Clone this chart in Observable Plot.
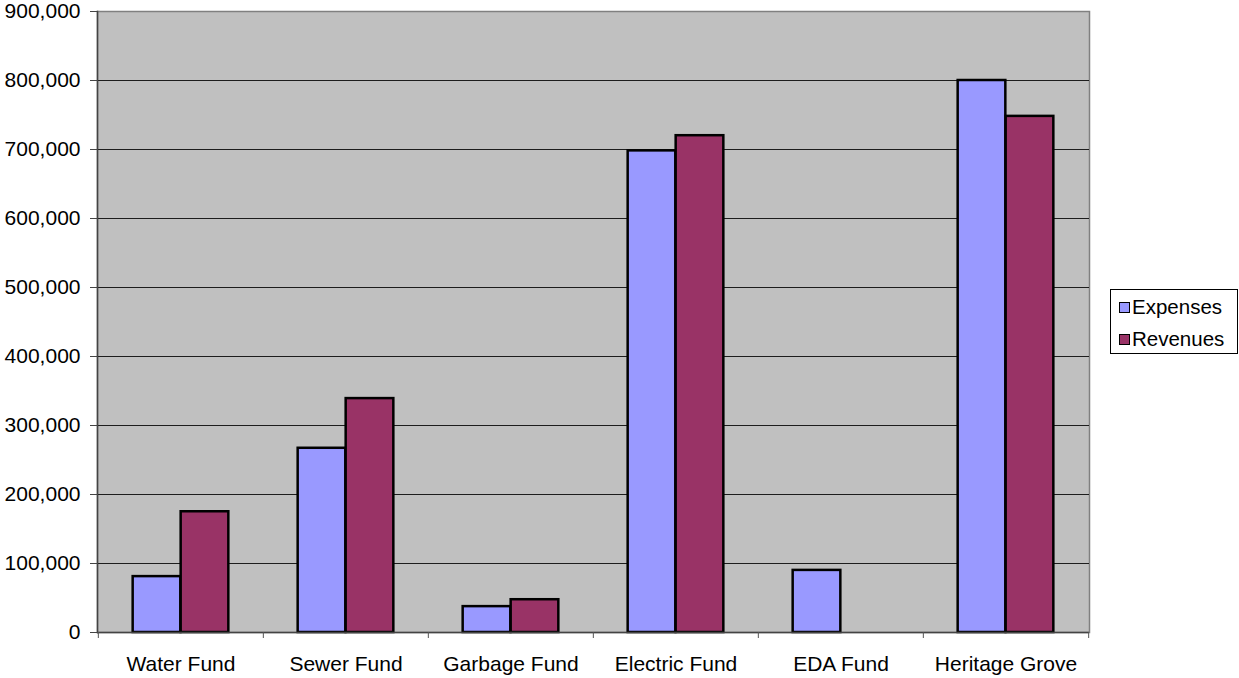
<!DOCTYPE html>
<html>
<head>
<meta charset="utf-8">
<script src="https://cdn.jsdelivr.net/npm/d3@7"></script>
<script src="https://cdn.jsdelivr.net/npm/@observablehq/plot@0.6"></script>
<style>
  html, body { margin: 0; padding: 0; background: #fff; }
  #wrap { position: relative; width: 1239px; height: 678px; font-family: "Liberation Sans", Arial, sans-serif; }
  #legend { position: absolute; left: 1110px; top: 289px; width: 126px; height: 63px; border: 1px solid #000; background: #fff; font-size: 20.5px; }
  .item { position: absolute; left: 8px; display: flex; align-items: center; color: #000; }
  .sw { width: 9px; height: 9px; border: 1px solid #000; margin-right: 2px; }
</style>
</head>
<body>
<div id="wrap"><div id="legend"></div></div>
<script>
const categories = ["Water Fund", "Sewer Fund", "Garbage Fund", "Electric Fund", "EDA Fund", "Heritage Grove"];
const expenses = [81000, 267000, 37500, 698000, 90000, 800000];
const revenues = [175000, 339000, 47500, 720000, 0, 748000];
const seriesNames = ["Expenses", "Revenues"];
const seriesColors = ["#9999ff", "#993366"];
const yTicks = [0, 100000, 200000, 300000, 400000, 500000, 600000, 700000, 800000, 900000];

const W = 1239, H = 678, mL = 97, mR = 150, mT = 11, mB = 46;
const step = (W - mL - mR) / categories.length;
const barW = 48;
const outer = (step - 2 * barW) / 2;

const expData = categories.map((c, i) => ({category: c, value: expenses[i]}));
const revData = categories.map((c, i) => ({category: c, value: revenues[i]})).filter(d => d.value > 0);

const chart = Plot.plot({
  width: W, height: H,
  marginLeft: mL, marginRight: mR, marginTop: mT, marginBottom: mB,
  style: {fontFamily: "'Liberation Sans', Arial, sans-serif", fontSize: "21px", color: "#000", background: "transparent"},
  x: {type: "band", domain: categories, padding: 0, label: null},
  y: {domain: [0, 900000], label: null},
  marks: [
    Plot.frame({fill: "#c0c0c0", stroke: "#808080", strokeWidth: 1.5}),
    Plot.ruleY(yTicks.filter(t => t > 0 && t < 900000), {stroke: "#000", strokeWidth: 1, strokeOpacity: 0.85}),
    Plot.barY(expData, {x: "category", y: "value", fill: seriesColors[0], stroke: "#000", strokeWidth: 2.5, insetLeft: outer, insetRight: outer + barW}),
    Plot.barY(revData, {x: "category", y: "value", fill: seriesColors[1], stroke: "#000", strokeWidth: 2.5, insetLeft: outer + barW, insetRight: outer}),
    Plot.frame({anchor: "left", stroke: "#444", strokeWidth: 1.5}),
    Plot.ruleY([0], {stroke: "#444", strokeWidth: 1.5}),
    Plot.axisY({ticks: yTicks, tickFormat: d3.format(","), tickSize: 7, tickPadding: 10, stroke: "#444", fontSize: 21}),
    Plot.axisX({tickSize: 0, tickPadding: 24, fontSize: 21}),
    Plot.axisX({tickSize: 6, tickFormat: () => "", dx: -step / 2, stroke: "#555"}),
    Plot.axisX({ticks: [categories[categories.length - 1]], tickSize: 6, tickFormat: () => "", dx: step / 2, stroke: "#555"})
  ]
});
document.getElementById("wrap").prepend(chart);

const legend = document.getElementById("legend");
seriesNames.forEach((name, i) => {
  const item = document.createElement("div");
  item.className = "item";
  item.style.top = (i === 0 ? 5 : 37) + "px";
  const sw = document.createElement("span");
  sw.className = "sw";
  sw.style.background = seriesColors[i];
  item.appendChild(sw);
  item.appendChild(document.createTextNode(name));
  legend.appendChild(item);
});
</script>
</body>
</html>
